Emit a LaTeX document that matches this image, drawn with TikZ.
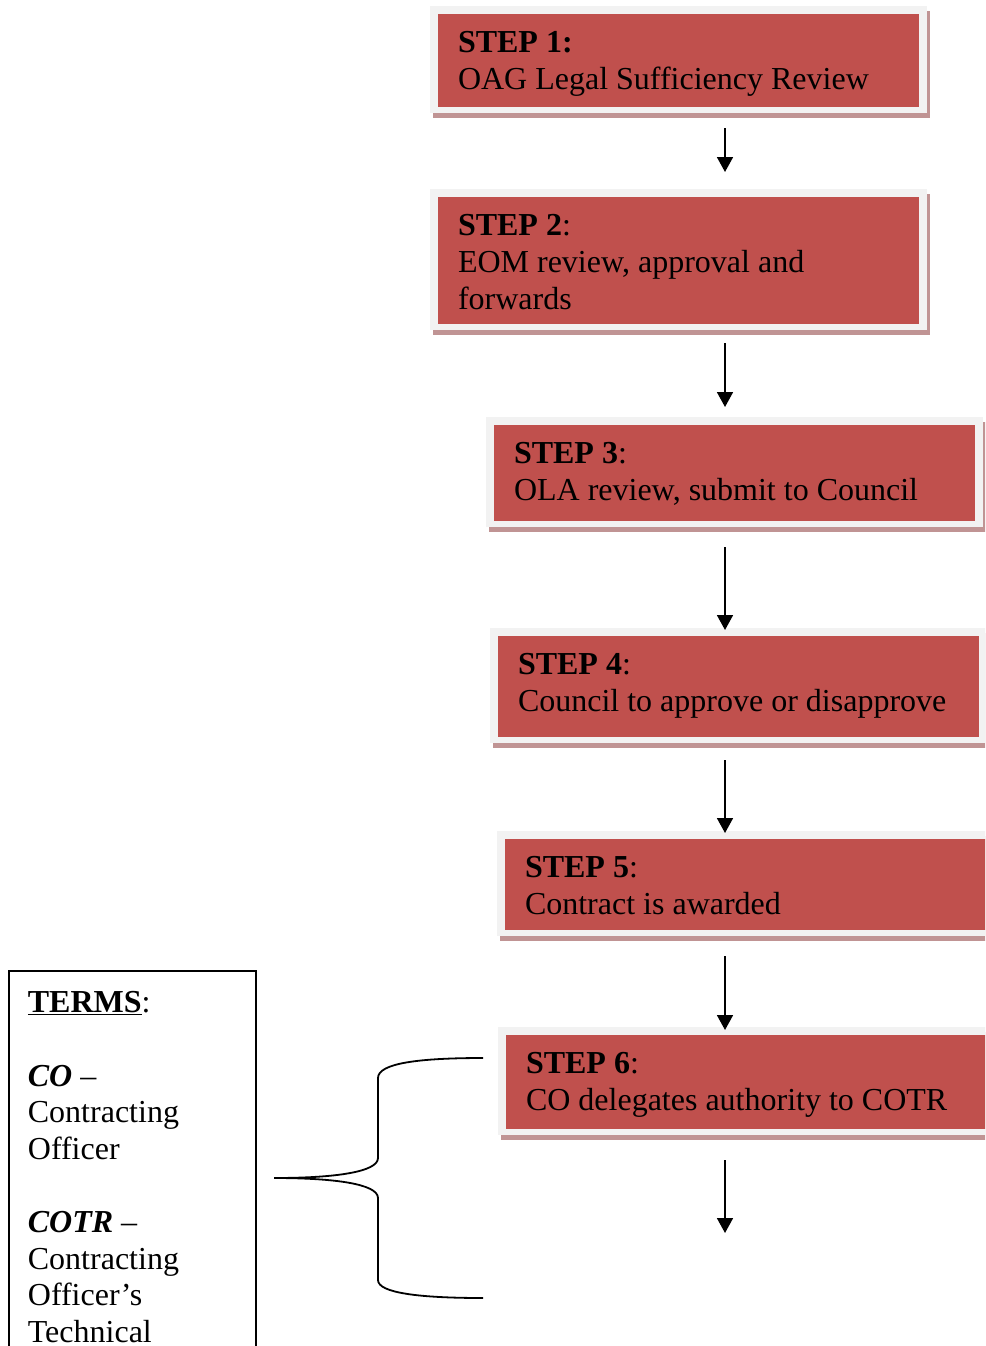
\documentclass[tikz,border=0pt]{standalone}
\usepackage{fontspec}
\setmainfont{Liberation Serif}
\usetikzlibrary{arrows.meta,shadows}

\definecolor{stepred}{HTML}{C0504D}
\definecolor{framegray}{HTML}{F2F2F2}
\definecolor{shadowred}{RGB}{192,148,148}

% text of a step box: height of box, then the lines
\newcommand{\steptext}[2]{\parbox[c][#1][t]{441pt}{\raggedright\vspace*{21pt}\strut #2}}

\tikzset{
  stepnode/.style={anchor=north west, fill=framegray, inner xsep=28pt, inner ysep=0pt, outer sep=0pt,
    font=\fontsize{32pt}{36.8pt}\selectfont,
    drop shadow={shadow xshift=2.5pt, shadow yshift=-5pt, fill=shadowred, opacity=1},
    path picture={\fill[stepred] ([shift={(8pt,-8pt)}]path picture bounding box.north west)
      rectangle ([shift={(-8pt,6pt)}]path picture bounding box.south east);}},
  termbox/.style={anchor=north west, draw, line width=1.8pt, inner xsep=19pt, inner ysep=0pt,
    font=\fontsize{32pt}{36.6pt}\selectfont},
  arr/.style={line width=1.8pt, -{Triangle[length=15pt,width=16pt]}},
  brace/.style={line width=1.8pt}
}

\begin{document}
\begin{tikzpicture}[x=1pt,y=-1pt]

	\clip (0,0) rectangle (985,1346);

	% steps
	\node (s1) [stepnode] at (430,6) {\steptext{107pt}{\textbf{STEP 1:}\\OAG Legal Sufficiency Review}};
	\node (s2) [stepnode] at (430,189) {\steptext{141pt}{\textbf{STEP 2}:\\EOM review, approval and\\forwards}};
	\node (s3) [stepnode] at (486,417) {\steptext{110pt}{\textbf{STEP 3}:\\OLA review, submit to Council}};
	\node (s4) [stepnode] at (490,628) {\steptext{115pt}{\textbf{STEP 4}:\\Council to approve or disapprove}};
	\node (s5) [stepnode] at (497,831) {\steptext{105pt}{\textbf{STEP 5}:\\Contract is awarded}};
	\node (s6) [stepnode] at (498,1027) {\steptext{108pt}{\textbf{STEP 6}:\\CO delegates authority to COTR}};

	\coordinate (ax) at (725,0);
	\coordinate (end6) at (725,1233);

	\draw[arr] ([yshift=-15pt]s1.south -| ax) -- ([yshift=17pt]s2.north -| ax);
	\draw[arr] ([yshift=-13pt]s2.south -| ax) -- ([yshift=10pt]s3.north -| ax);
	\draw[arr] ([yshift=-20pt]s3.south -| ax) -- ([yshift=-2pt]s4.north -| ax);
	\draw[arr] ([yshift=-17pt]s4.south -| ax) -- ([yshift=-2pt]s5.north -| ax);
	\draw[arr] ([yshift=-20pt]s5.south -| ax) -- ([yshift=-3pt]s6.north -| ax);
	\draw[arr] ([yshift=-25pt]s6.south -| ax) -- (end6);

	% terms
	\node (terms) [termbox] at (8,970) {\parbox[c][420pt][t]{209pt}{\raggedright\vspace*{16.4pt}\strut
		\underline{\textbf{TERMS}}:\\[36.6pt]
		\textbf{\textit{CO}} --\\
		Contracting\\
		Officer\\[36.6pt]
		\textbf{\textit{COTR}} --\\
		Contracting\\
		Officer’s\\
		Technical}};

	% brace
	\coordinate (tip) at (274,1178);
	\draw[brace] (tip) .. controls (335,1178) and (378,1172) .. (378,1158) -- (378,1078)
		.. controls (378,1063) and (420,1058) .. (483,1058);
	\draw[brace] (tip) .. controls (335,1178) and (378,1184) .. (378,1198) -- (378,1280)
		.. controls (378,1293) and (420,1298) .. (483,1298);

\end{tikzpicture}
\end{document}
